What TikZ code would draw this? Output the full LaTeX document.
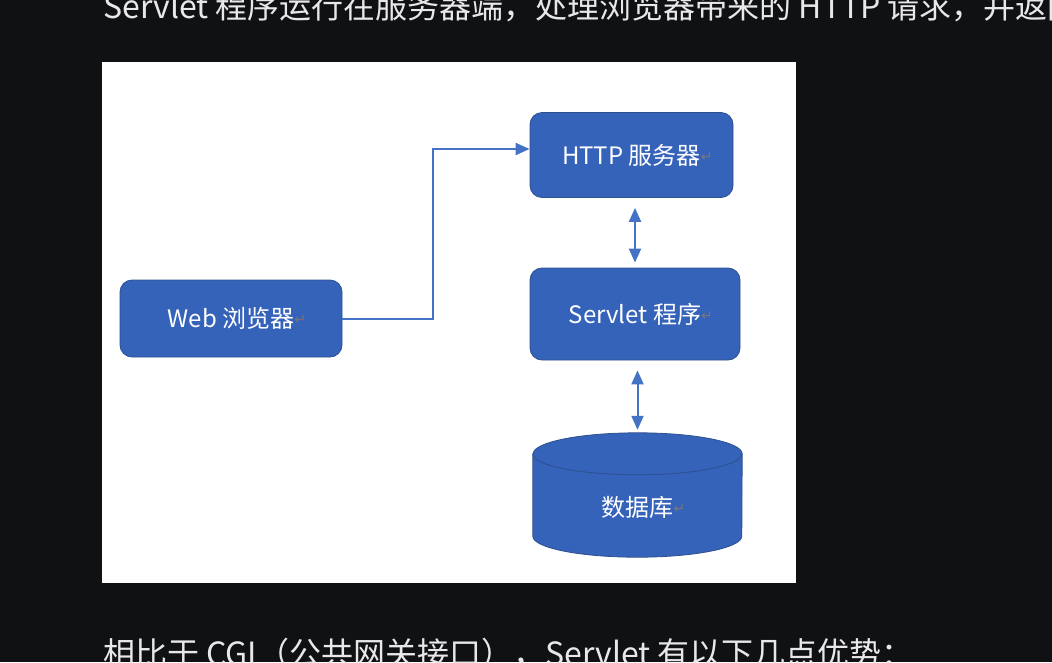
\documentclass[tikz,border=0pt]{standalone}
\usepackage{fontspec}
\setmainfont{Noto Sans CJK SC}
\newfontfamily\marksym{DejaVu Sans}
\usepackage{xcolor}
\usetikzlibrary{arrows.meta}

\definecolor{pagebg}{RGB}{16,17,19}
\definecolor{pagefg}{RGB}{232,232,234}
\definecolor{boxblue}{RGB}{53,99,186}
\definecolor{boxedge}{RGB}{45,80,142}
\definecolor{linkblue}{RGB}{68,114,196}
\definecolor{markgray}{RGB}{118,118,124}

\newcommand{\retmark}{\rlap{\raisebox{3pt}{\marksym\fontsize{14}{14}\selectfont\color{markgray}↵}}}

\begin{document}
\begin{tikzpicture}[x=1pt, y=-1pt, >={Triangle[length=14pt, width=12pt]},
    box/.style={draw=boxedge, fill=boxblue, rounded corners=12pt, line width=0.8pt,
      text=white, font=\fontsize{24}{24}\selectfont, inner sep=0pt},
    link/.style={linkblue, line width=2pt},
    pagetext/.style={text=pagefg, font=\fontsize{32}{32}\selectfont, inner sep=0pt, anchor=base west}]
  \useasboundingbox (0,0) rectangle (1052,662);
  \clip (0,0) rectangle (1052,662);
  \fill[pagebg] (0,0) rectangle (1052,662);
  % page text around the figure
  \node[pagetext] (intro) at (103,18.5) {Servlet 程序运行在服务器端，处理浏览器带来的 HTTP 请求，并返回};
  \node[pagetext] (outro) at (103,665) {相比于 CGI（公共网关接口），Servlet 有以下几点优势：};
  \fill[white] (102,62) rectangle (796,583);
  % boxes
  \node[box, minimum width=222pt, minimum height=77pt] (web) at (231,318.5) {Web 浏览器\retmark};
  \node[box, minimum width=203pt, minimum height=85pt] (http) at (631.5,155) {HTTP 服务器\retmark};
  \node[box, minimum width=210pt, minimum height=92pt] (servlet) at (635,314) {Servlet 程序\retmark};
  % database
  \node[minimum width=209pt, minimum height=124pt, inner sep=0pt] (db) at (637.5,495) {};
  \filldraw[fill=boxblue, draw=boxedge, line width=0.8pt]
    ([yshift=-21pt]db.north west) -- ([yshift=21pt]db.south west)
    arc[start angle=180, end angle=360, x radius=104.5pt, y radius=21pt]
    -- ([yshift=-21pt]db.north east)
    arc[start angle=0, end angle=180, x radius=104.5pt, y radius=21pt] -- cycle;
  \draw[boxedge, line width=0.8pt] ([yshift=-21pt]db.north west)
    arc[start angle=180, end angle=360, x radius=104.5pt, y radius=21pt];
  \node[text=white, font=\fontsize{24}{24}\selectfont, inner sep=0pt] (dbname)
    at ([yshift=-12pt]db.center) {数据库\retmark};
  % connectors
  \draw[link, ->] (web.east) -- ++(91,0) |- ([yshift=6pt]http.west);
  \draw[link, <->, shorten <=10pt, shorten >=5pt] (servlet.north |- http.south) -- (servlet.north);
  \draw[link, <->, shorten <=10pt, shorten >=3pt] (db.north |- servlet.south) -- (db.north);
\end{tikzpicture}
\end{document}
